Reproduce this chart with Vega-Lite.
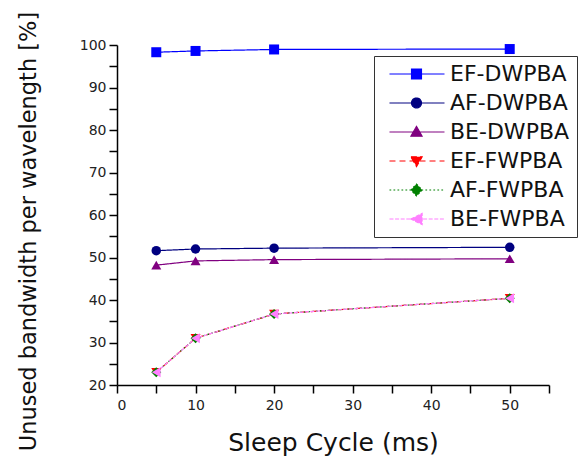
{
  "$schema": "https://vega.github.io/schema/vega-lite/v6.json",
  "width": 432,
  "height": 340,
  "autosize": "none",
  "padding": {"left": 117, "top": 45, "right": 36, "bottom": 81},
  "background": "white",
  "config": {
    "view": {"stroke": null},
    "font": "DejaVu Sans",
    "axis": {
      "domainColor": "#000000",
      "domainWidth": 1.5,
      "tickColor": "#000000",
      "tickWidth": 1.5,
      "tickSize": 8,
      "grid": false,
      "labelFont": "DejaVu Sans",
      "labelFontSize": 14,
      "labelColor": "#222222",
      "titleFont": "DejaVu Sans",
      "titleFontWeight": "normal",
      "titleColor": "#111111"
    },
    "legend": {
      "orient": "none",
      "legendX": 257,
      "legendY": 11,
      "strokeColor": "#333333",
      "fillColor": "#ffffff",
      "padding": 7,
      "rowPadding": 7,
      "symbolSize": 196,
      "symbolStrokeWidth": 1.2,
      "symbolOpacity": 1,
      "labelFont": "DejaVu Sans",
      "labelFontSize": 22,
      "labelColor": "#111111",
      "labelOffset": 47
    }
  },
  "data": {
    "values": [
      {"series": "EF-DWPBA", "cycle": 5, "value": 98.3},
      {"series": "EF-DWPBA", "cycle": 10, "value": 98.6},
      {"series": "EF-DWPBA", "cycle": 20, "value": 98.95},
      {"series": "EF-DWPBA", "cycle": 50, "value": 99.05},
      {"series": "AF-DWPBA", "cycle": 5, "value": 51.6},
      {"series": "AF-DWPBA", "cycle": 10, "value": 52.0},
      {"series": "AF-DWPBA", "cycle": 20, "value": 52.2},
      {"series": "AF-DWPBA", "cycle": 50, "value": 52.4},
      {"series": "BE-DWPBA", "cycle": 5, "value": 48.2},
      {"series": "BE-DWPBA", "cycle": 10, "value": 49.2},
      {"series": "BE-DWPBA", "cycle": 20, "value": 49.5},
      {"series": "BE-DWPBA", "cycle": 50, "value": 49.7},
      {"series": "EF-FWPBA", "cycle": 5, "value": 23.0},
      {"series": "EF-FWPBA", "cycle": 10, "value": 31.0},
      {"series": "EF-FWPBA", "cycle": 20, "value": 36.7},
      {"series": "EF-FWPBA", "cycle": 50, "value": 40.4},
      {"series": "AF-FWPBA", "cycle": 5, "value": 23.0},
      {"series": "AF-FWPBA", "cycle": 10, "value": 31.0},
      {"series": "AF-FWPBA", "cycle": 20, "value": 36.7},
      {"series": "AF-FWPBA", "cycle": 50, "value": 40.4},
      {"series": "BE-FWPBA", "cycle": 5, "value": 23.0},
      {"series": "BE-FWPBA", "cycle": 10, "value": 31.0},
      {"series": "BE-FWPBA", "cycle": 20, "value": 36.7},
      {"series": "BE-FWPBA", "cycle": 50, "value": 40.4}
    ]
  },
  "encoding": {
    "x": {
      "field": "cycle",
      "type": "quantitative",
      "scale": {"domain": [0, 55], "nice": false, "zero": false},
      "axis": {
        "title": "Sleep Cycle (ms)",
        "titleFontSize": 25,
        "titlePadding": 18,
        "values": [0, 5, 10, 15, 20, 25, 30, 35, 40, 45, 50, 55],
        "labelExpr": "datum.value % 10 === 0 ? datum.label : ''",
        "labelPadding": 5,
        "encode": {"ticks": {"y2": {"value": {"expr": "datum.value % 10 === 0 ? 8 : 4"}}}}
      }
    },
    "y": {
      "field": "value",
      "type": "quantitative",
      "scale": {"domain": [20, 100], "nice": false, "zero": false},
      "axis": {
        "title": "Unused bandwidth per wavelength [%]",
        "titleFontSize": 22.5,
        "titleAngle": -90,
        "titleAlign": "center",
        "titleBaseline": "alphabetic",
        "titleX": -82,
        "titleY": 186,
        "values": [20, 25, 30, 35, 40, 45, 50, 55, 60, 65, 70, 75, 80, 85, 90, 95, 100],
        "labelExpr": "datum.value % 10 === 0 ? datum.label : ''",
        "labelPadding": 3,
        "encode": {"ticks": {"x2": {"value": {"expr": "datum.value % 10 === 0 ? -8 : -4"}}}}
      }
    }
  },
  "layer": [
    {
      "mark": {"type": "line", "strokeWidth": 1.2},
      "encoding": {
        "stroke": {
          "field": "series",
          "type": "nominal",
          "scale": {
            "domain": ["EF-DWPBA", "AF-DWPBA", "BE-DWPBA", "EF-FWPBA", "AF-FWPBA", "BE-FWPBA"],
            "range": ["#0000ff", "#000080", "#800080", "#ff0000", "#008000", "#ff80ff"]
          }
        },
        "strokeDash": {
          "field": "series",
          "type": "nominal",
          "legend": null,
          "scale": {
            "domain": ["EF-DWPBA", "AF-DWPBA", "BE-DWPBA", "EF-FWPBA", "AF-FWPBA", "BE-FWPBA"],
            "range": [[1, 0], [1, 0], [1, 0], [6, 3], [2, 2], [4, 1.5]]
          }
        },
        "order": {"field": "cycle", "type": "quantitative"}
      }
    },
    {
      "transform": [{"filter": "datum.series === 'EF-DWPBA'"}],
      "mark": {"type": "point", "filled": true, "opacity": 1, "size": 100, "shape": "square", "color": "#0000ff"}
    },
    {
      "transform": [{"filter": "datum.series === 'AF-DWPBA'"}],
      "mark": {"type": "point", "filled": true, "opacity": 1, "size": 90, "shape": "circle", "color": "#000080"}
    },
    {
      "transform": [{"filter": "datum.series === 'BE-DWPBA'"}],
      "mark": {"type": "point", "filled": true, "opacity": 1, "size": 100, "shape": "triangle-up", "color": "#800080"}
    },
    {
      "transform": [{"filter": "datum.series === 'EF-FWPBA'"}],
      "mark": {"type": "point", "filled": true, "opacity": 1, "size": 100, "shape": "triangle-down", "color": "#ff0000"}
    },
    {
      "transform": [{"filter": "datum.series === 'AF-FWPBA'"}],
      "mark": {"type": "point", "filled": true, "opacity": 1, "size": 100, "shape": "diamond", "color": "#008000"}
    },
    {
      "transform": [{"filter": "datum.series === 'BE-FWPBA'"}],
      "mark": {"type": "point", "filled": true, "opacity": 1, "size": 100, "shape": "triangle-left", "color": "#ff80ff"}
    },
    {
      "transform": [{"filter": "datum.cycle > 1000"}],
      "mark": {"type": "point", "filled": true, "opacity": 1},
      "encoding": {
        "fill": {
          "field": "series",
          "type": "nominal",
          "legend": {"title": null},
          "scale": {
            "domain": ["EF-DWPBA", "AF-DWPBA", "BE-DWPBA", "EF-FWPBA", "AF-FWPBA", "BE-FWPBA"],
            "range": ["#0000ff", "#000080", "#800080", "#ff0000", "#008000", "#ff80ff"]
          }
        },
        "stroke": {
          "field": "series",
          "type": "nominal",
          "legend": {"title": null}
        },
        "shape": {
          "field": "series",
          "type": "nominal",
          "legend": {"title": null},
          "scale": {
            "domain": ["EF-DWPBA", "AF-DWPBA", "BE-DWPBA", "EF-FWPBA", "AF-FWPBA", "BE-FWPBA"],
            "range": [
              "M-0.36,0H7.5M2.79,-0.71H4.21V0.71H2.79Z",
              "M-0.36,0H7.5M2.79,0A0.71,0.71 0 1,0 4.21,0A0.71,0.71 0 1,0 2.79,0Z",
              "M-0.36,0H7.5M3.5,-0.8L4.3,0.6H2.7Z",
              "M-0.36,0h1M1.07,0h1M2.5,0h1M3.93,0h1M5.36,0h1M6.79,0h0.71M2.7,-0.6H4.3L3.5,0.8Z",
              "M-0.36,0h0.25M0.21,0h0.25M0.78,0h0.25M1.35,0h0.25M1.92,0h0.25M2.49,0h0.25M3.06,0h0.25M3.63,0h0.25M4.2,0h0.25M4.77,0h0.25M5.34,0h0.25M5.91,0h0.25M6.48,0h0.25M7.05,0h0.25M3.5,-0.85L4.3,0L3.5,0.85L2.7,0Z",
              "M-0.36,0h0.6M0.44,0h0.6M1.24,0h0.6M2.04,0h0.6M2.84,0h0.6M3.64,0h0.6M4.44,0h0.6M5.24,0h0.6M6.04,0h0.6M6.84,0h0.6M2.7,0L4.3,-0.8V0.8Z"
            ]
          }
        }
      }
    }
  ]
}
